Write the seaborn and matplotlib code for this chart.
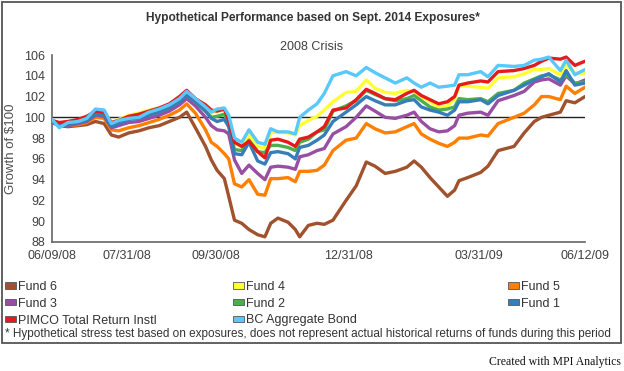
import numpy as np
import pandas as pd
import matplotlib
matplotlib.use("Agg")
import matplotlib.pyplot as plt
import matplotlib.dates as mdates
from matplotlib.patches import Patch, Rectangle
import seaborn as sns

dates = ["2008-06-09", "2008-06-14", "2008-06-20", "2008-06-27", "2008-07-03", "2008-07-09",
         "2008-07-15", "2008-07-20", "2008-07-25", "2008-08-01", "2008-08-08", "2008-08-15",
         "2008-08-22", "2008-08-29", "2008-09-05", "2008-09-10", "2008-09-16", "2008-09-23",
         "2008-09-27", "2008-10-01", "2008-10-06", "2008-10-09", "2008-10-13", "2008-10-18",
         "2008-10-23", "2008-10-29", "2008-11-03", "2008-11-07", "2008-11-12", "2008-11-19",
         "2008-11-24", "2008-11-27", "2008-12-03", "2008-12-09", "2008-12-14", "2008-12-20",
         "2008-12-29", "2009-01-05", "2009-01-12", "2009-01-18", "2009-01-25", "2009-02-01",
         "2009-02-09", "2009-02-14", "2009-02-19", "2009-02-25", "2009-03-03", "2009-03-09",
         "2009-03-14", "2009-03-17", "2009-03-23", "2009-04-01", "2009-04-06", "2009-04-13",
         "2009-04-24", "2009-05-01", "2009-05-08", "2009-05-13", "2009-05-18", "2009-05-26",
         "2009-05-30", "2009-06-05", "2009-06-12"]

fund6 = [99.6, 99.2, 99.1, 99.2, 99.3, 99.6, 99.4, 98.3, 98.1, 98.5, 98.7, 99.0, 99.2, 99.6,
         100.0, 100.5, 99.0, 97.2, 95.9, 94.9, 94.1, 92.4, 90.1, 89.8, 89.2, 88.7, 88.5, 89.8,
         90.3, 89.9, 89.2, 88.5, 89.6, 89.8, 89.7, 90.1, 92.0, 93.4, 95.7, 95.3, 94.6, 94.8,
         95.2, 95.8, 95.2, 94.2, 93.3, 92.4, 93.0, 93.9, 94.2, 94.7, 95.3, 96.8, 97.2, 98.5,
         99.6, 100.0, 100.2, 100.5, 101.6, 101.4, 102.0]
fund4 = [99.7, 99.4, 99.5, 99.7, 100.0, 100.6, 100.5, 99.5, 99.8, 100.2, 100.4, 100.7, 100.9,
         101.1, 101.7, 102.3, 101.6, 100.9, 100.4, 100.6, 100.7, 99.8, 97.5, 97.2, 98.3, 97.2,
         97.0, 98.5, 98.6, 98.5, 98.3, 99.2, 99.7, 100.1, 100.7, 101.5, 102.4, 102.5, 103.6,
         102.8, 102.4, 102.3, 102.6, 102.4, 102.0, 101.5, 101.0, 101.1, 101.8, 103.0, 103.0,
         102.9, 102.8, 103.8, 103.9, 104.2, 104.6, 104.6, 104.7, 104.1, 105.0, 104.3, 104.2]
fund5 = [99.6, 99.3, 99.2, 99.3, 99.5, 100.0, 99.9, 98.8, 98.7, 99.0, 99.2, 99.5, 99.8, 100.2,
         100.7, 101.3, 100.4, 98.8, 97.6, 97.2, 96.5, 96.0, 93.6, 93.3, 94.0, 92.6, 92.5, 94.1,
         94.1, 94.2, 93.8, 94.8, 94.8, 94.9, 95.4, 96.8, 97.8, 98.0, 99.4, 98.9, 98.5, 98.6,
         99.1, 99.4, 98.4, 97.9, 97.5, 97.2, 97.6, 98.0, 98.0, 98.3, 98.2, 99.4, 100.0, 100.4,
         101.2, 102.0, 102.0, 101.7, 103.0, 102.3, 102.9]
fund3 = [99.5, 99.2, 99.2, 99.4, 99.6, 100.2, 100.1, 99.0, 99.2, 99.5, 99.6, 99.9, 100.2,
         100.6, 101.2, 101.8, 101.1, 100.0, 99.2, 98.8, 98.7, 98.4, 95.9, 94.6, 95.4, 94.6,
         94.0, 95.2, 95.3, 95.2, 95.0, 96.2, 96.4, 96.8, 97.0, 98.4, 99.1, 100.0, 101.1, 100.6,
         100.0, 99.9, 100.2, 100.5, 99.6, 98.9, 98.6, 98.7, 99.2, 100.2, 100.4, 100.5, 100.2,
         101.6, 102.1, 102.5, 103.4, 103.6, 103.7, 103.1, 104.0, 103.2, 103.6]
fund2 = [99.6, 99.3, 99.4, 99.6, 99.8, 100.4, 100.3, 99.2, 99.5, 99.9, 100.1, 100.4, 100.6,
         101.0, 101.6, 102.1, 101.5, 100.6, 100.0, 100.1, 100.3, 99.3, 96.9, 96.8, 97.8, 96.7,
         96.6, 97.3, 97.3, 97.1, 96.8, 97.6, 97.9, 98.6, 98.8, 100.6, 101.1, 101.6, 102.6,
         102.2, 101.8, 101.6, 101.8, 102.1, 101.6, 101.0, 100.7, 100.8, 101.0, 101.8, 101.7,
         101.8, 101.5, 102.3, 102.6, 103.3, 103.7, 104.0, 104.1, 103.6, 104.1, 103.3, 103.4]
fund1 = [99.6, 99.2, 99.3, 99.5, 99.7, 100.3, 100.2, 99.1, 99.4, 99.8, 99.9, 100.2, 100.5,
         100.9, 101.5, 102.1, 101.5, 100.6, 99.9, 99.6, 99.8, 99.1, 96.5, 96.4, 97.6, 95.8,
         95.5, 96.6, 96.7, 96.5, 96.0, 97.1, 97.3, 97.8, 98.3, 99.6, 100.5, 101.2, 102.0,
         101.6, 101.2, 101.2, 101.6, 101.7, 101.0, 100.7, 100.5, 100.2, 100.7, 101.5, 101.5,
         101.7, 101.3, 102.1, 102.6, 103.1, 103.6, 103.9, 104.2, 103.4, 104.5, 103.1, 103.3]
pimco = [99.7, 99.5, 99.6, 99.8, 100.1, 100.6, 100.5, 99.5, 99.7, 100.1, 100.3, 100.6, 100.9,
         101.3, 102.0, 102.6, 101.8, 101.2, 100.7, 100.6, 100.8, 99.7, 97.6, 97.2, 97.7, 96.7,
         96.1, 97.8, 97.9, 97.6, 97.2, 97.9, 98.1, 98.6, 99.1, 100.7, 100.9, 101.7, 102.7,
         102.3, 101.8, 101.7, 102.3, 102.6, 102.1, 101.7, 101.3, 101.5, 102.0, 103.1, 103.3,
         103.5, 103.4, 104.4, 104.5, 104.7, 105.0, 105.4, 105.7, 105.6, 105.8, 105.0, 105.4]
bc_agg = [99.8, 99.0, 99.5, 99.6, 99.9, 100.8, 100.7, 99.4, 99.7, 99.9, 100.0, 100.5, 100.8,
          101.2, 101.8, 102.5, 101.8, 101.0, 100.5, 100.8, 100.9, 100.2, 98.0, 97.6, 98.8,
          97.6, 97.4, 98.9, 98.6, 98.6, 98.4, 100.0, 100.7, 101.3, 102.3, 104.0, 104.4, 104.0,
          104.8, 104.3, 103.8, 103.3, 103.8, 103.3, 102.9, 103.3, 102.9, 103.0, 103.1, 104.1,
          104.1, 104.4, 103.9, 105.0, 104.9, 105.0, 105.5, 105.6, 105.8, 104.5, 105.5, 104.1,
          104.6]

series_names = ["Fund 6", "Fund 4", "Fund 5", "Fund 3", "Fund 2", "Fund 1",
                "PIMCO Total Return Instl", "BC Aggregate Bond"]
series_values = [fund6, fund4, fund5, fund3, fund2, fund1, pimco, bc_agg]
colors = ["#a0522d", "#ffff33", "#ff7f00", "#984ea3", "#4daf4a", "#377eb8",
          "#e41a1c", "#5ac8fa"]
tick_dates = ["2008-06-09", "2008-07-31", "2008-09-30", "2008-12-31", "2009-03-31", "2009-06-12"]
tick_labels = ["06/09/08", "07/31/08", "09/30/08", "12/31/08", "03/31/09", "06/12/09"]
y_ticks = [88, 90, 92, 94, 96, 98, 100, 102, 104, 106]

sns.set_style("white")
plt.rcParams["font.family"] = ["Liberation Sans", "DejaVu Sans"]

frames = []
for name, vals in zip(series_names, series_values):
    frames.append(pd.DataFrame({"date": pd.to_datetime(dates), "value": vals, "series": name}))
df = pd.concat(frames, ignore_index=True)
palette = dict(zip(series_names, colors))

W, H = 624, 371
fig = plt.figure(figsize=(W / 100, H / 100), dpi=100)
ax = fig.add_axes([52 / W, 1 - 242 / H, (585 - 52) / W, (242 - 55) / H])

sns.lineplot(data=df, x="date", y="value", hue="series", hue_order=series_names,
             palette=palette, linewidth=2.4, legend=False, ax=ax, zorder=3)
ax.axhline(100, color="#222222", linewidth=1.0, zorder=2)

ax.set_xlim(pd.Timestamp(tick_dates[0]), pd.Timestamp(tick_dates[-1]))
ax.set_ylim(88, 106)
ax.set_yticks(y_ticks)
ax.set_yticklabels([str(v) for v in y_ticks])
ax.set_xticks(pd.to_datetime(tick_dates))
ax.set_xticklabels(tick_labels)
ax.tick_params(axis="both", direction="out", length=4, width=1, color="#666666",
               labelcolor="#404040", labelsize=9, pad=1)
ax.tick_params(axis="x", pad=2)
for s in ["top", "right"]:
    ax.spines[s].set_visible(False)
for s in ["left", "bottom"]:
    ax.spines[s].set_color("#666666")
    ax.spines[s].set_linewidth(1.2)
ax.set_xlabel("")
ax.set_ylabel("Growth of $100", fontsize=9.5, color="#505050", labelpad=5)

fig.text(313 / W, 1 - 18 / H, "Hypothetical Performance based on Sept. 2014 Exposures*",
         ha="center", va="center", fontsize=8.6, fontweight="bold", color="#333333",
         family=["Liberation Sans Narrow", "Liberation Sans"])
fig.text(312 / W, 1 - 47 / H, "2008 Crisis", ha="center", va="center", fontsize=9,
         color="#404040")

cols = [[0, 3, 6], [1, 4, 7], [2, 5]]
col_x = [5, 233, 508]
for cidx, xpos in zip(cols, col_x):
    handles = [Patch(facecolor=colors[i], edgecolor="#555555", linewidth=0.6,
                     label=series_names[i]) for i in cidx]
    fig.legend(handles=handles, loc="upper left", bbox_to_anchor=(xpos / W, 1 - 281 / H),
               frameon=False, fontsize=9, handlelength=0.85, handleheight=0.4,
               handletextpad=0.2, labelspacing=0.38, borderaxespad=0, borderpad=0,
               labelcolor="#333333")

fig.text(5 / W, 1 - 334 / H,
         "* Hypothetical stress test based on exposures, does not represent actual historical returns of funds during this period",
         ha="left", va="center", fontsize=8.45, color="#333333")
fig.text(621 / W, 1 - 362 / H, "Created with MPI Analytics", ha="right", va="center",
         fontsize=8.5, color="#111111", family=["Liberation Serif", "DejaVu Serif"])

fig.add_artist(Rectangle((1.5 / W, 1 - 343 / H), (621 - 1.5) / W, (343 - 1.5) / H,
                         transform=fig.transFigure, fill=False, edgecolor="#555555",
                         linewidth=1.3))

fig.savefig("out.png", dpi=100, facecolor="white")
